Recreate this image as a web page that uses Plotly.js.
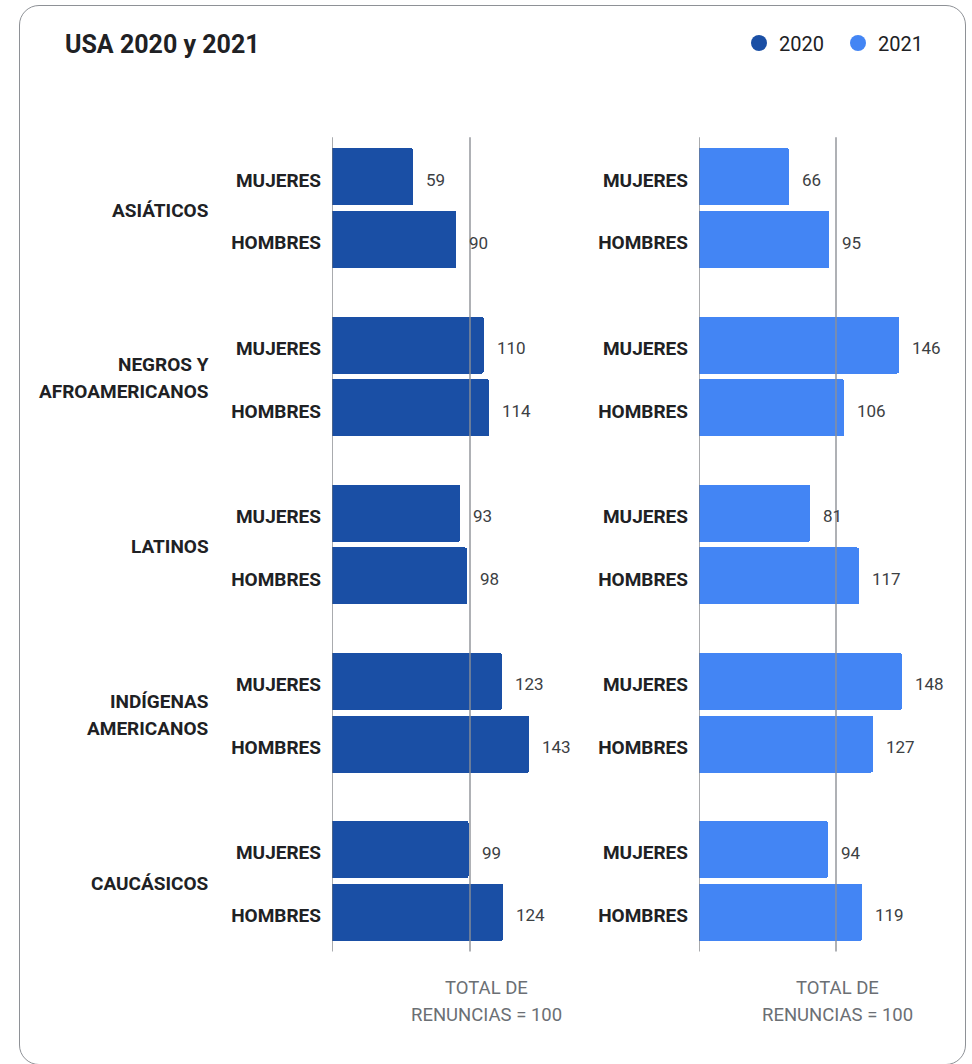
<!DOCTYPE html>
<html>
<head>
<meta charset="utf-8">
<script src="https://cdn.plot.ly/plotly-3.0.1.min.js"></script>
<style>
  html, body { margin: 0; padding: 0; background: #ffffff; }
  #wrap { position: relative; width: 972px; height: 1064px; }
  #chart { position: absolute; left: 0; top: 0; width: 972px; height: 1064px; }
  #card { position: absolute; left: 19px; top: 5px; width: 947px; height: 1060px;
          border: 1px solid #8e9196; border-radius: 20px; pointer-events: none; box-sizing: border-box; }
</style>
</head>
<body>
<div id="wrap">
  <div id="chart"></div>
  <div id="card"></div>
</div>
<script>
// ---- data ----
const groups = ['ASIÁTICOS', 'NEGROS Y<br>AFROAMERICANOS', 'LATINOS', 'INDÍGENAS<br>AMERICANOS', 'CAUCÁSICOS'];
const genders = ['MUJERES', 'HOMBRES'];
const years = ['2020', '2021'];
const mujeres2020 = [59, 110, 93, 123, 99];
const hombres2020 = [90, 114, 98, 143, 124];
const mujeres2021 = [66, 146, 81, 148, 94];
const hombres2021 = [95, 106, 117, 127, 119];
const referenceValue = 100;
const referenceLabel = ['TOTAL DE', 'RENUNCIAS = 100'];
const title = 'USA 2020 y 2021';

// ---- styling / layout ----
const W = 972, H = 1064;
const colors = {'2020': '#1a4fa5', '2021': '#4385f4'};
const FONT = 'Roboto, "Noto Sans", Arial, sans-serif';
const groupStep = 2.683;       // slot units between groups
const barWidth = 0.909;
const tickNudge = 0.05;        // tick labels sit slightly below bar centres
const yRange = [12.356, -0.630];
const yDomain = [1 - 951.5 / H, 1 - 137.3 / H];
const panels = [
  {year: '2020', xa: 'x', ya: 'y', dom: [332 / W, 552.8 / W], refShift: 16, data: [mujeres2020, hombres2020]},
  {year: '2021', xa: 'x2', ya: 'y2', dom: [699 / W, 918.2 / W], refShift: 1, data: [mujeres2021, hombres2021]}
];

function pos(g, j) { return g * groupStep + j; }

const traces = [];
const annotations = [];
const shapes = [];
const tickvals = [], ticktext = [];
groups.forEach((g, gi) => genders.forEach((s, si) => { tickvals.push(pos(gi, si) + tickNudge); ticktext.push(s); }));

panels.forEach(p => {
  const ys = [], xs = [];
  groups.forEach((g, gi) => {
    genders.forEach((s, si) => {
      ys.push(pos(gi, si));
      xs.push(p.data[si][gi]);
    });
  });
  traces.push({
    type: 'bar', orientation: 'h', x: xs, y: ys, xaxis: p.xa, yaxis: p.ya,
    width: barWidth, marker: {color: colors[p.year], line: {width: 0}, cornerradius: 2},
    showlegend: false, hoverinfo: 'x'
  });
  xs.forEach((v, i) => annotations.push({
    xref: p.xa, yref: p.ya, x: v, y: ys[i], xanchor: 'left', yanchor: 'middle', xshift: 11, yshift: -3,
    text: String(v), showarrow: false, font: {family: FONT, size: 17, color: '#3c4043'}
  }));
  // zero line and reference line
  [0, referenceValue].forEach(v => shapes.push({
    type: 'line', xref: p.xa, yref: p.ya + ' domain', x0: v, x1: v, y0: 0, y1: 1,
    layer: 'above', line: {color: v === 0 ? '#6f7378' : '#8d9096', width: v === 0 ? 1.2 : 1.4}
  }));
  referenceLabel.forEach((t, li) => annotations.push({
    xref: p.xa, yref: 'paper', x: referenceValue, xshift: p.refShift, y: 1 - (988 + li * 27) / H,
    xanchor: 'center', yanchor: 'middle', text: t, showarrow: false,
    font: {family: FONT, size: 18.5, color: '#6b6f74'}
  }));
});

// group labels
groups.forEach((g, gi) => {
  const lines = g.split('<br>');
  lines.forEach((ln, li) => annotations.push({
    xref: 'paper', yref: 'y', x: 211 / W, y: pos(gi, 0.5), xanchor: 'right', yanchor: 'middle',
    yshift: ((lines.length - 1) / 2 - li) * 27 - 2, text: ln, showarrow: false,
    font: {family: FONT, size: 19, color: '#202124', weight: 700}
  }));
});

// legend entries (circle markers)
years.forEach(y => traces.push({
  type: 'scatter', mode: 'markers', x: [null], y: [null], name: y, xaxis: 'x', yaxis: 'y',
  marker: {color: colors[y], size: 17, symbol: 'circle'}, showlegend: true
}));

const axisX = dom => ({domain: dom, range: [0, 160], showgrid: false, zeroline: false, showticklabels: false, showline: false, fixedrange: true});
const axisY = (anchor) => ({
  domain: yDomain, range: yRange, anchor: anchor, showgrid: false, zeroline: false, showline: false,
  tickmode: 'array', tickvals: tickvals, ticktext: ticktext, ticks: '', ticklabelstandoff: 10,
  tickfont: {family: FONT, size: 19, color: '#202124', weight: 700}, fixedrange: true
});

const layout = {
  width: W, height: H,
  margin: {l: 0, r: 0, t: 0, b: 0},
  paper_bgcolor: 'rgba(0,0,0,0)', plot_bgcolor: 'rgba(0,0,0,0)',
  font: {family: FONT, color: '#202124'},
  title: {text: title, x: 65 / W, xanchor: 'left', xref: 'paper', y: 1 - 44 / H, yanchor: 'middle', yref: 'paper',
          font: {family: FONT, size: 25, color: '#202124', weight: 700}},
  showlegend: true,
  legend: {orientation: 'h', x: 739 / W, xanchor: 'left', y: 1 - 43 / H, yanchor: 'middle', entrywidth: 54,
           font: {family: FONT, size: 20, color: '#202124'}, bgcolor: 'rgba(0,0,0,0)', itemclick: false},
  xaxis: axisX(panels[0].dom),
  xaxis2: axisX(panels[1].dom),
  yaxis: axisY('x'),
  yaxis2: axisY('x2'),
  bargap: 0,
  shapes: shapes,
  annotations: annotations
};

Plotly.newPlot('chart', traces, layout, {displayModeBar: false, staticPlot: true});
</script>
</body>
</html>
